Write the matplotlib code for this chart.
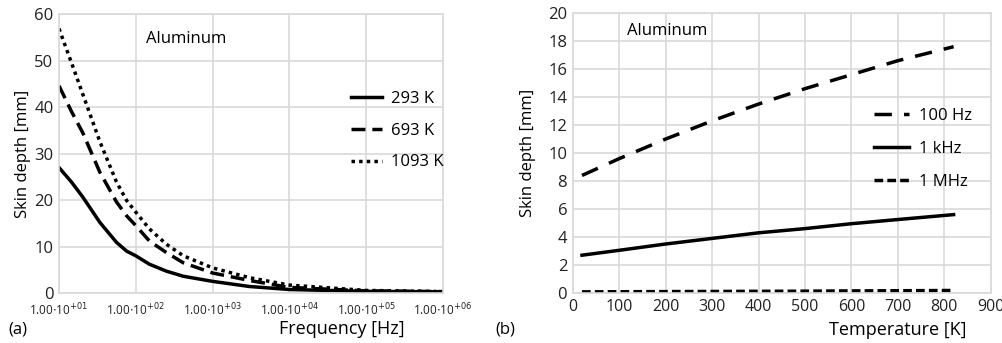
import matplotlib
matplotlib.use("Agg")
import matplotlib.pyplot as plt

plt.rcParams['font.family'] = ['Open Sans', 'DejaVu Sans']

# (a) skin depth vs frequency
freq = [10, 14.5, 20.5, 34, 56, 76, 100, 150, 250, 415, 1000, 3000, 1e4, 1e5, 1e6]
d_293 = [27, 23.9, 20.6, 15.2, 10.9, 9.0, 8.0, 6.2, 4.7, 3.6, 2.5, 1.4, 0.75, 0.35, 0.25]
d_693 = [44.6, 39.1, 34.4, 26, 19.6, 16.6, 14.5, 11.2, 8.7, 6.5, 4.3, 2.7, 1.2, 0.45, 0.3]
d_1093 = [56.9, 49.6, 42.7, 32.6, 23.9, 19.9, 17.4, 13.8, 10.5, 8.0, 5.4, 3.3, 1.7, 0.55, 0.3]
freq_ticks = [1e1, 1e2, 1e3, 1e4, 1e5, 1e6]
freq_labels = [r'1.00$\cdot$10$^{+01}$', r'1.00$\cdot$10$^{+02}$', r'1.00$\cdot$10$^{+03}$',
               r'1.00$\cdot$10$^{+04}$', r'1.00$\cdot$10$^{+05}$', r'1.00$\cdot$10$^{+06}$']

# (b) skin depth vs temperature
temp = [20, 100, 200, 300, 400, 500, 600, 700, 820]
d_100hz = [8.4, 9.6, 11.0, 12.3, 13.5, 14.6, 15.6, 16.6, 17.6]
d_1khz = [2.7, 3.05, 3.5, 3.9, 4.3, 4.6, 4.95, 5.25, 5.6]
d_1mhz = [0.08, 0.09, 0.1, 0.11, 0.12, 0.13, 0.15, 0.16, 0.18]

grid_c = '#d9d9d9'

fig = plt.figure(figsize=(10.03, 3.43), dpi=100)
ax1 = fig.add_axes([0.0588, 0.1458, 0.383, 0.813])
ax2 = fig.add_axes([0.571, 0.1458, 0.4168, 0.816])

ax1.plot(freq, d_293, color='black', lw=2.5, ls='-', label='293 K')
ax1.plot(freq, d_693, color='black', lw=2.5, ls=(0, (4, 2)), label='693 K')
ax1.plot(freq, d_1093, color='black', lw=2.5, ls=(0, (1, 1.2)), label='1093 K')
ax1.set_xscale('log')
ax1.set_xlim(10, 1e6)
ax1.set_ylim(0, 60)
ax1.set_xticks(freq_ticks)
ax1.set_xticklabels(freq_labels)
ax1.minorticks_off()
ax1.set_yticks(range(0, 61, 10))
ax1.set_ylabel('Skin depth [mm]', fontsize=12, labelpad=2)
ax1.text(0.226, 0.91, 'Aluminum', transform=ax1.transAxes, fontsize=12, va='center')
ax1.legend(loc='upper right', bbox_to_anchor=(1.0, 0.725), frameon=False, fontsize=12,
           handlelength=1.9, handletextpad=0.5, labelspacing=0.95, borderaxespad=0,
           borderpad=0)

ax2.plot(temp, d_100hz, color='black', lw=2.5, ls=(0, (5, 3.5)), label='100 Hz')
ax2.plot(temp, d_1khz, color='black', lw=2.5, ls='-', label='1 kHz')
ax2.plot(temp, d_1mhz, color='black', lw=2.5, ls=(0, (2.5, 1.2)), label='1 MHz')
ax2.set_xlim(0, 900)
ax2.set_ylim(0, 20)
ax2.set_xticks(range(0, 901, 100))
ax2.set_yticks(range(0, 21, 2))
ax2.set_ylabel('Skin depth [mm]', fontsize=12, labelpad=9)
ax2.text(0.13, 0.935, 'Aluminum', transform=ax2.transAxes, fontsize=12, va='center')
ax2.legend(loc='upper right', bbox_to_anchor=(0.954, 0.66), frameon=False, fontsize=12,
           handlelength=2.15, handletextpad=0.55, labelspacing=1.0, borderaxespad=0,
           borderpad=0)

for ax in (ax1, ax2):
    ax.grid(True, color=grid_c, lw=1.2)
    ax.set_axisbelow(True)
    ax.tick_params(length=0, labelsize=12, pad=4, colors='#222222')
    for s in ax.spines.values():
        s.set_color(grid_c)
        s.set_linewidth(1.2)
ax1.tick_params(axis='x', labelsize=8.5, pad=6)
ax2.tick_params(axis='x', labelsize=11.5)

fig.text(405 / 1003, 1 - 329 / 343, 'Frequency [Hz]', fontsize=13, ha='right', va='center')
fig.text(8 / 1003, 1 - 330 / 343, '(a)', fontsize=12, va='center')
fig.text(967 / 1003, 1 - 330 / 343, 'Temperature [K]', fontsize=13, ha='right', va='center')
fig.text(495 / 1003, 1 - 330 / 343, '(b)', fontsize=12, va='center')

fig.savefig('out.png', dpi=100)
